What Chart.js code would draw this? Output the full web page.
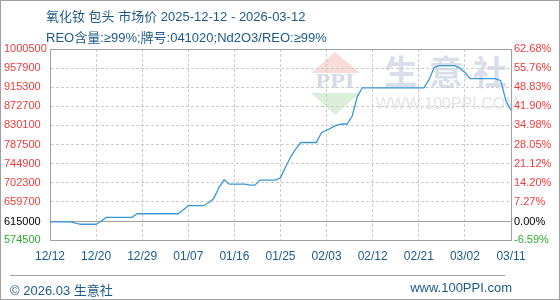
<!DOCTYPE html>
<html>
<head>
<meta charset="utf-8">
<script src="https://cdn.jsdelivr.net/npm/chart.js@4/dist/chart.umd.min.js"></script>
<style>
body { margin: 0; background: #fff; }
#wrap { position: relative; width: 560px; height: 300px; font-family: "Liberation Sans", "Noto Sans CJK SC", sans-serif; color: #1d5a8a; }
#priceChart { position: absolute; left: 0; top: 0; }
.frame { position: absolute; left: 0; top: 0; width: 560px; height: 300px; box-sizing: border-box; border: 1px solid #a0a0a0; pointer-events: none; }
.title { position: absolute; left: 46px; font-size: 13px; white-space: nowrap; }
.sep { position: absolute; left: 10px; top: 275px; width: 495px; height: 1px; background: #a0a0a0; }
.foot { position: absolute; top: 280px; font-size: 13px; white-space: nowrap; }
</style>
</head>
<body>
<div id="wrap">
    <canvas id="priceChart" width="560" height="300"></canvas>
    <div class="title" style="top:6px">氧化钕 包头 市场价 2025-12-12 - 2026-03-12</div>
    <div class="title" style="top:27px">REO含量:≥99%;牌号:041020;Nd2O3/REO:≥99%</div>
    <div class="sep"></div>
    <div class="foot" style="left:10px">© 2026.03 生意社</div>
    <div class="foot" style="right:48px">www.100PPI.com</div>
    <div class="frame"></div>
</div>
<script>
// daily price, 12/12 .. 03/11 (index = day position on the x axis)
const prices = [
    615000, 615000, 615000, 615000, 615000, 612000, 609600, 609600, 609600, 609600,
    617000, 625000, 625000, 625000, 625000, 625000, 625000, 633000, 633000, 633000,
    633000, 633000, 633000, 633000, 633000, 633000, 641500, 651000, 651000, 651000,
    651000, 658000, 667300, 692000, 708700, 699000, 699000, 699000, 699000, 696800,
    696800, 708000, 708000, 708000, 708000, 713100, 737700, 760100, 778000, 792000,
    792000, 792000, 792000, 813800, 819300, 825000, 830500, 833200, 833200, 851000,
    895000, 914000, 914000, 914000, 914000, 914000, 914000, 914000, 914000, 914000,
    914000, 914000, 914000, 914000, 932000, 959000, 963600, 963600, 963600, 963600,
    958000, 948000, 934500, 934500, 934500, 934500, 934500, 934500, 930000, 885000,
    864000
];
const xTicks = [0, 9, 18, 27, 36, 45, 54, 63, 72, 81, 90];
const xLabels = ['12/12', '12/20', '12/29', '01/07', '01/16', '01/25', '02/03', '02/12', '02/21', '03/02', '03/11'];
const leftTicks = [574500, 615000, 659700, 702300, 744900, 787500, 830100, 872700, 915300, 957900, 1000500];
const rightTicks = [-6.59, 0, 7.27, 14.20, 21.12, 28.05, 34.98, 41.90, 48.83, 55.76, 62.68];
const basePrice = 615000;

const red = '#f23a3a';
const green = '#2fa82f';

const watermark = {
    id: 'watermark',
    beforeDraw(chart) {
        const c = chart.ctx;
        c.save();
        // logo: pink triangle, PPI, green triangle
        c.fillStyle = '#f8dcd8';
        c.beginPath();
        c.moveTo(335, 52); c.lineTo(360, 73); c.lineTo(311, 73); c.closePath();
        c.fill();
        c.fillStyle = '#d9efda';
        c.beginPath();
        c.moveTo(311, 93); c.lineTo(360, 93); c.lineTo(335, 115); c.closePath();
        c.fill();
        c.fillStyle = '#d3dae8';
        c.font = 'bold 21px "Liberation Serif", serif';
        c.textAlign = 'center';
        c.textBaseline = 'middle';
        c.save();
        c.translate(335, 83);
        c.scale(1.15, 1);
        c.fillText('PPI', 0, 0);
        c.restore();
        c.font = 'bold 34px "Noto Sans CJK SC", sans-serif';
        c.fillStyle = '#d8deea';
        c.fillText('生', 401, 72);
        c.fillText('意', 446, 72);
        c.fillText('社', 490, 72);
        c.font = '16px "Liberation Sans", sans-serif';
        c.fillStyle = '#e4e4e4';
        c.fillText('WWW.100PPI.COM', 447, 105);
        c.restore();
    }
};

document.addEventListener('DOMContentLoaded', () => {
    const ctx = document.getElementById('priceChart').getContext('2d');
    new Chart(ctx, {
        type: 'line',
        data: {
            datasets: [{
                data: prices.map((v, i) => ({ x: i, y: v })),
                borderColor: '#3a98d8',
                borderWidth: 1.3,
                pointRadius: 0,
                fill: false,
                tension: 0,
                yAxisID: 'y'
            }]
        },
        options: {
            responsive: false,
            animation: false,
            events: [],
            layout: { padding: { left: 4, top: 49, right: 0, bottom: 0 } },
            plugins: { legend: { display: false }, tooltip: { enabled: false } },
            scales: {
                x: {
                    type: 'linear',
                    min: 0,
                    max: 90,
                    afterBuildTicks: s => { s.ticks = xTicks.map(v => ({ value: v })); },
                    afterFit: s => { s.height = 60; },
                    ticks: {
                        autoSkip: false,
                        maxRotation: 0,
                        padding: 9,
                        color: '#1d5a8a',
                        font: { family: 'Liberation Sans', size: 12 },
                        callback: v => xLabels[xTicks.indexOf(v)]
                    },
                    grid: {
                        drawTicks: false,
                        color: c => (c.tick && (c.tick.value === 0 || c.tick.value === 90)) ? 'rgba(0,0,0,0)' : '#cccccc'
                    },
                    border: { color: '#a0a0a0', dash: c => c.type === 'tick' ? [3, 2] : [] }
                },
                y: {
                    position: 'left',
                    min: 574500,
                    max: 1000500,
                    afterBuildTicks: s => { s.ticks = leftTicks.map(v => ({ value: v })); },
                    afterFit: s => { s.width = 46; },
                    ticks: {
                        crossAlign: 'far',
                        font: { family: 'Liberation Sans', size: 11 },
                        color: c => c.tick.value > basePrice ? red : (c.tick.value === basePrice ? '#000' : green),
                        callback: v => String(v)
                    },
                    grid: {
                        drawTicks: false,
                        color: c => {
                            if (!c.tick) return '#cccccc';
                            if (c.tick.value === 574500) return 'rgba(0,0,0,0)';
                            if (c.tick.value === basePrice || c.tick.value === 1000500) return '#a0a0a0';
                            return '#cccccc';
                        }
                    },
                    border: {
                        color: '#a0a0a0',
                        dash: c => (c.type === 'tick' && c.tick.value !== basePrice && c.tick.value !== 1000500) ? [3, 2] : []
                    }
                },
                y2: {
                    position: 'right',
                    min: -6.59,
                    max: 62.68,
                    afterBuildTicks: s => { s.ticks = rightTicks.map(v => ({ value: v })); },
                    afterFit: s => { s.width = 49; },
                    ticks: {
                        padding: 3,
                        font: { family: 'Liberation Sans', size: 11 },
                        color: c => c.tick.value > 0 ? red : (c.tick.value === 0 ? '#000' : green),
                        callback: v => v.toFixed(2) + '%'
                    },
                    grid: { display: false, drawTicks: false },
                    border: { color: '#a0a0a0' }
                }
            }
        },
        plugins: [watermark]
    });
});
</script>
</body>
</html>
